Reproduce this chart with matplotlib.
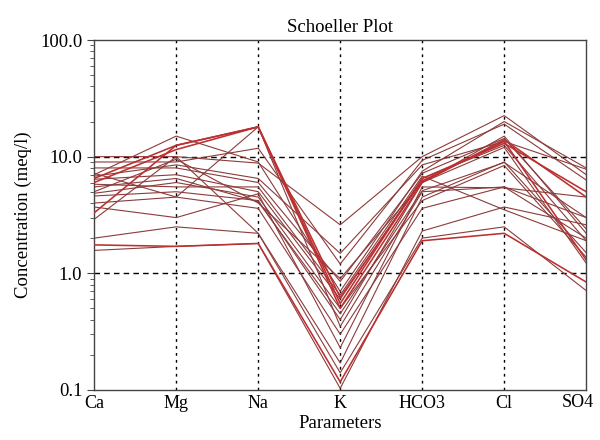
import numpy as np
import matplotlib
matplotlib.use("Agg")
import matplotlib.pyplot as plt
from matplotlib.ticker import FixedLocator, FixedFormatter, LogLocator, NullFormatter

plt.rcParams['font.family'] = ['Liberation Serif', 'DejaVu Serif']

params = ['Ca', 'Mg', 'Na', 'K', 'HCO3', 'Cl', 'SO4']

# concentrations in meq/l, one row per water sample
s01 = [6.5, 12.5, 18.0, 0.55, 6.5, 13.0, 5.0]
s02 = [6.0, 11.5, 18.0, 0.50, 6.0, 14.0, 4.5]
s03 = [7.0, 15.0, 9.0, 0.70, 7.5, 20.0, 8.0]
s04 = [10.0, 10.0, 8.8, 2.6, 10.0, 22.5, 7.0]
s05 = [9.0, 9.0, 11.8, 1.2, 9.3, 19.0, 6.3]
s06 = [8.0, 8.0, 6.0, 0.85, 7.2, 14.3, 2.4]
s07 = [6.4, 7.0, 5.0, 0.60, 6.5, 12.5, 1.9]
s08 = [5.5, 6.5, 4.1, 0.45, 5.1, 8.9, 3.0]
s09 = [4.85, 6.0, 4.5, 0.50, 4.2, 8.4, 1.37]
s10 = [4.6, 5.0, 4.2, 0.40, 6.0, 12.0, 1.22]
s11 = [4.0, 4.5, 3.6, 0.30, 3.6, 5.5, 2.0]
s12 = [3.7, 3.0, 4.8, 0.23, 5.5, 5.4, 4.5]
s13 = [3.3, 12.5, 18.0, 0.62, 6.2, 13.5, 1.3]
s14 = [2.0, 2.5, 2.2, 0.14, 2.0, 2.5, 0.71]
s15 = [1.75, 1.7, 1.8, 0.117, 1.9, 2.2, 0.84]
s16 = [1.57, 1.7, 1.8, 0.103, 2.3, 3.7, 2.6]
s17 = [6.8, 8.5, 6.5, 1.48, 8.5, 13.5, 7.8]
s18 = [5.8, 5.5, 5.5, 0.65, 6.8, 3.5, 1.9]
s19 = [7.2, 4.5, 18.0, 0.35, 5.0, 5.5, 3.0]
s20 = [5.0, 9.5, 4.0, 0.90, 6.0, 15.0, 2.2]
s21 = [2.9, 10.0, 2.2, 0.17, 4.5, 9.0, 1.5]

samples = [s01, s02, s03, s04, s05, s06, s07, s08, s09, s10, s11,
           s12, s13, s14, s15, s16, s17, s18, s19, s20, s21]
# the few samples that were drawn with the heavier red stroke
red_rows = [0, 1, 12, 14]

x = np.arange(len(params))

fig = plt.figure(figsize=(6, 4.4), dpi=100)
ax = fig.add_axes([0.157, 0.114, 0.820, 0.795])

for i, row in enumerate(samples):
    if i in red_rows:
        ax.plot(x, row, color='#bb3030', lw=1.15, zorder=3)
    else:
        ax.plot(x, row, color='#8c3b3b', lw=0.8, zorder=2)

ax.set_yscale('log')
ax.set_ylim(0.1, 100)
ax.set_xlim(0, 6)

ax.yaxis.set_major_locator(FixedLocator([0.1, 1, 10, 100]))
ax.yaxis.set_major_formatter(FixedFormatter(['0.1', '1.0', '10.0', '100.0']))
ax.yaxis.set_minor_locator(LogLocator(base=10, subs=np.arange(2, 10)))
ax.yaxis.set_minor_formatter(NullFormatter())

# last category label is drawn separately, nudged left so it stays on the canvas
ax.set_xticks(x)
ax.set_xticklabels(params[:-1] + [''])
ax.annotate(params[-1], xy=(x[-1], 0), xycoords=('data', 'axes fraction'),
            xytext=(-6, -3), textcoords='offset points',
            ha='center', va='top', fontsize=13)
ax.tick_params(axis='x', length=0, labelsize=13, pad=4)
ax.tick_params(axis='y', which='major', length=5, labelsize=13.5, color='#444444')
ax.tick_params(axis='y', which='minor', length=3, color='#444444')

for xi in x[1:-1]:
    ax.axvline(xi, color='black', lw=1.0, ls=(0, (2, 3)), zorder=1)
for yv in [1, 10]:
    ax.axhline(yv, color='black', lw=1.0, ls=(0, (4, 3)), zorder=1)

for sp in ax.spines.values():
    sp.set_color('#444444')
    sp.set_linewidth(1.0)

ax.set_title('Schoeller Plot', fontsize=13.5, pad=6)
ax.set_xlabel('Parameters', fontsize=13.5, labelpad=2)
ax.set_ylabel('Concentration (meq/l)', fontsize=13.5, labelpad=6)

fig.savefig('out.png', dpi=100)
